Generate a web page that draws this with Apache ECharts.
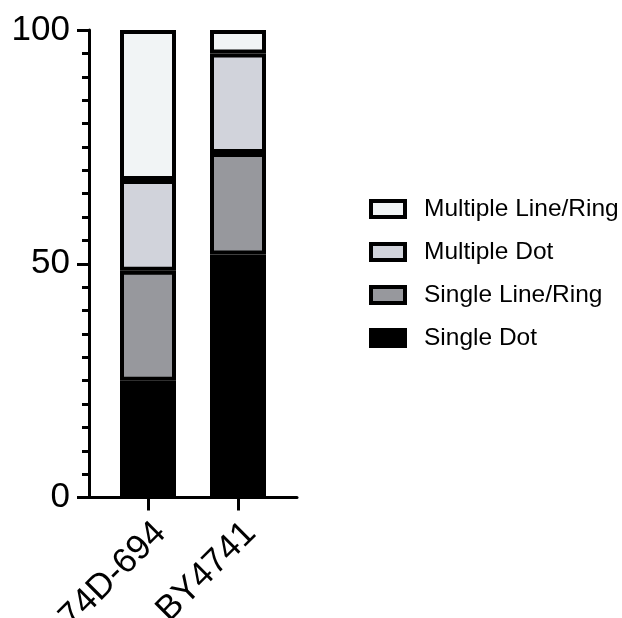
<!DOCTYPE html>
<html>
<head>
<meta charset="utf-8">
<script src="https://cdn.jsdelivr.net/npm/echarts@6/dist/echarts.min.js"></script>
<style>html,body{margin:0;padding:0;background:#fff;}#c{width:622px;height:618px;}</style>
</head>
<body>
<div id="c"></div>
<script>
const categories = ['74D-694', 'BY4741'];
const seriesNames = ['Single Dot', 'Single Line/Ring', 'Multiple Dot', 'Multiple Line/Ring'];
const singleDot = [25, 52];
const singleLineRing = [23.5, 21.7];
const multipleDot = [19.4, 21.3];
const multipleLineRing = [32.1, 5.0];
const yTickLabels = [0, 50, 100];
const legendOrder = ['Multiple Line/Ring', 'Multiple Dot', 'Single Line/Ring', 'Single Dot'];

const values = [singleDot, singleLineRing, multipleDot, multipleLineRing];
const fills = ['#000000', '#97989D', '#D1D3DB', '#F1F4F5'];
const FONT = 'Liberation Sans, Arial, Helvetica, sans-serif';

const chart = echarts.init(document.getElementById('c'), null, {renderer: 'canvas'});
chart.setOption({
  animation: false,
  backgroundColor: '#fff',
  grid: [
    {left: 89, width: 208, top: 30, bottom: 120.5, containLabel: false, outerBoundsMode: 'none'},
    {left: 103, width: 180, top: 30, bottom: 120.5, containLabel: false, outerBoundsMode: 'none'}
  ],
  xAxis: [
    {
      gridIndex: 0, type: 'value', min: 0, max: 1,
      splitLine: {show: false},
      axisLine: {show: true, lineStyle: {color: '#000', width: 3}},
      axisTick: {show: false}, axisLabel: {show: false}
    },
    {
      gridIndex: 1, type: 'category', data: categories, boundaryGap: true,
      axisLine: {show: false},
      axisTick: {show: true, alignWithLabel: true, length: 13, lineStyle: {color: '#000', width: 3}},
      axisLabel: {
        show: true, interval: 0, rotate: 45, verticalAlign: 'top', margin: 18,
        fontSize: 35, color: '#000', fontFamily: FONT
      }
    }
  ],
  yAxis: [
    {
      gridIndex: 0, type: 'value', min: 0, max: 100, interval: 50,
      splitLine: {show: false},
      axisLine: {show: true, lineStyle: {color: '#000', width: 3}},
      axisTick: {show: true, length: 12, lineStyle: {color: '#000', width: 3}},
      minorTick: {show: true, splitNumber: 10, length: 7, lineStyle: {color: '#000', width: 3}},
      axisLabel: {
        formatter: v => (yTickLabels.indexOf(v) >= 0 ? String(v) : ''),
        margin: 19, fontSize: 35, color: '#000', fontFamily: FONT
      }
    },
    {
      gridIndex: 1, type: 'value', min: 0, max: 100, interval: 50, show: false,
      splitLine: {show: false}
    }
  ],
  legend: {
    orient: 'vertical',
    left: 369,
    top: 196,
    padding: 0,
    itemWidth: 34,
    itemHeight: 16,
    itemGap: 17,
    icon: 'rect',
    data: legendOrder,
    itemStyle: {borderColor: '#000', borderWidth: 4},
    textStyle: {fontSize: 24.5, color: '#000', fontFamily: FONT, padding: [0, 0, 0, 14], lineHeight: 26}
  },
  series: seriesNames.map((name, k) => ({
    name: name,
    type: 'bar',
    stack: 'total',
    xAxisIndex: 1,
    yAxisIndex: 1,
    barWidth: 56,
    itemStyle: {color: fills[k], borderColor: '#000', borderWidth: 4},
    data: values[k]
  }))
});
</script>
</body>
</html>
